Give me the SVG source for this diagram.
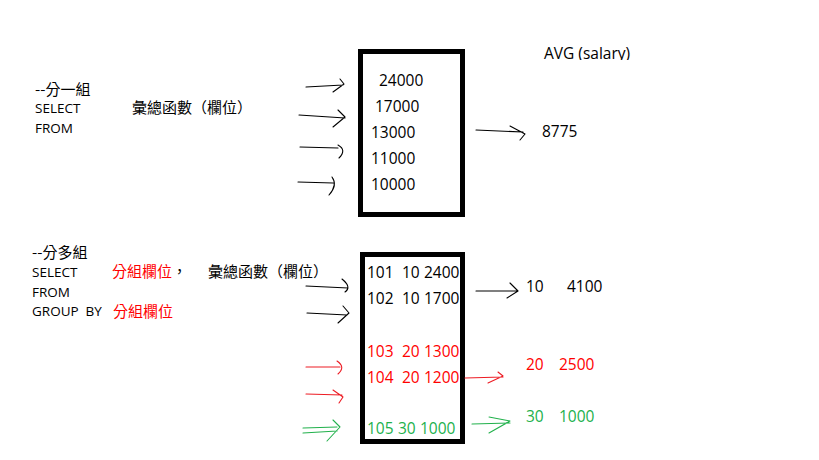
<svg xmlns="http://www.w3.org/2000/svg" width="819" height="460" viewBox="0 0 819 460">
<style>
.lat{font-family:"Open Sans","Noto Sans CJK TC",sans-serif;font-size:15.5px;fill:#000}
.sm{font-family:"Open Sans","Noto Sans CJK TC",sans-serif;font-size:13.5px;fill:#000;white-space:pre}
.cjk{font-family:"Noto Sans CJK TC",sans-serif;font-size:15px;fill:#000}
.red{fill:#ff0000}
.grn{fill:#22b14c}
.box{fill:#fff;stroke:#000;stroke-width:5}
.ln{fill:none;stroke:#000;stroke-width:1.1;stroke-linecap:round;stroke-linejoin:round}
.lr{stroke:#ed1c24}
.lg{stroke:#22b14c}
</style>
<defs>
<clipPath id="avgclip"><rect x="530" y="30" width="120" height="30"/></clipPath>
</defs>
<rect width="819" height="460" fill="#fff"/>

<g id="query1">
<text class="cjk" x="35" y="95">--分一組</text>
<text class="sm" x="35" y="113">SELECT</text>
<text class="sm" x="35" y="133">FROM</text>
<text class="cjk" x="132" y="113">彙總函數（欄位）</text>
</g>

<g id="box1">
<rect class="box" x="360.5" y="51.5" width="102" height="163"/>
<text class="lat" x="379" y="86">24000</text>
<text class="lat" x="375" y="112">17000</text>
<text class="lat" x="371" y="138">13000</text>
<text class="lat" x="371" y="164">11000</text>
<text class="lat" x="371" y="190">10000</text>
</g>

<g id="result1">
<text class="lat" x="544" y="59" clip-path="url(#avgclip)">AVG (salary)</text>
<text class="lat" x="542" y="137">8775</text>
</g>

<g id="query2">
<text class="cjk" x="32" y="258">--分多組</text>
<text class="sm" x="32" y="277">SELECT</text>
<text class="sm" x="32" y="297">FROM</text>
<text class="sm" x="32" y="316">GROUP  BY</text>
<text class="cjk" x="112" y="277"><tspan class="red">分組欄位</tspan>，</text>
<text class="cjk" x="208" y="277">彙總函數（欄位）</text>
<text class="cjk red" x="113" y="317">分組欄位</text>
</g>

<g id="box2">
<rect class="box" x="362.5" y="254.5" width="100" height="187"/>
<text class="lat" y="278"><tspan x="367">101</tspan><tspan x="402">10</tspan><tspan x="424">2400</tspan></text>
<text class="lat" y="304"><tspan x="367">102</tspan><tspan x="402">10</tspan><tspan x="424">1700</tspan></text>
<text class="lat red" y="357"><tspan x="367">103</tspan><tspan x="402">20</tspan><tspan x="424">1300</tspan></text>
<text class="lat red" y="383"><tspan x="367">104</tspan><tspan x="402">20</tspan><tspan x="424">1200</tspan></text>
<text class="lat grn" y="434"><tspan x="367">105</tspan><tspan x="398">30</tspan><tspan x="420">1000</tspan></text>
</g>

<g id="result2">
<text class="lat" y="292"><tspan x="526">10</tspan><tspan x="567">4100</tspan></text>
<text class="lat red" y="370"><tspan x="526">20</tspan><tspan x="559">2500</tspan></text>
<text class="lat grn" y="422"><tspan x="526">30</tspan><tspan x="559">1000</tspan></text>
</g>

<g id="connectors">
<path class="ln" d="M306,87 L343,85 M340,79 L344,84 L333,92"/>
<path class="ln" d="M299,115 L345,118 M338,110 L345,117 L333,127"/>
<path class="ln" d="M300,147 L338,148 M338,145 Q347,150 339,158"/>
<path class="ln" d="M298,182 L333,183 M332,177 Q338,185 329,195"/>
<path class="ln" d="M476,130 L523,132 M510,126 L525,134 L520,140"/>

<path class="ln" d="M306,286 L348,288 M342,279 Q352,287 345,292"/>
<path class="ln" d="M307,313 L347,315 M343,306 L349,313 L338,323"/>
<path class="ln lr" d="M306,367 L340,367 M337,361 Q346,367 338,374"/>
<path class="ln lr" d="M306,394 L342,395 M333,390 L343,397 L339,403"/>
<path class="ln lg" d="M303,428 L337,427 M303,433 L337,431 M333,420 L340,427 L327,441"/>
<path class="ln" d="M476,291 L518,291 M510,283 L518,291 L507,298"/>
<path class="ln lr" d="M465,378 L503,377 M498,372 L503,376 L488,383"/>
<path class="ln lg" d="M472,424 L510,423 M489,417 L510,421 L489,433"/>
</g>
</svg>
